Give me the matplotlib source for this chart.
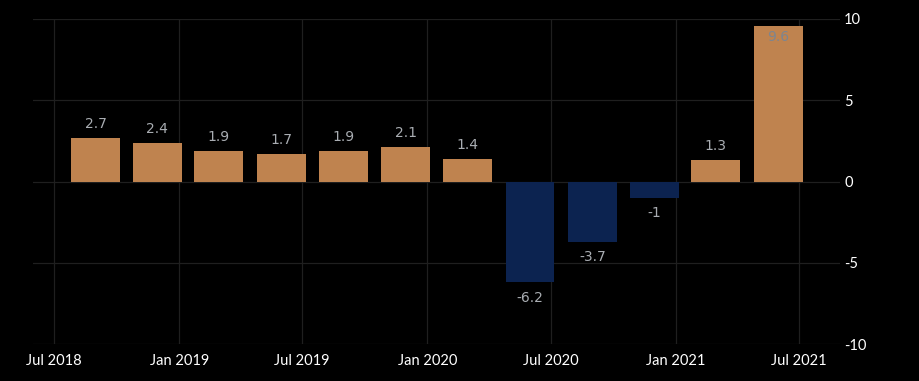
import matplotlib
matplotlib.use("Agg")
import matplotlib.pyplot as plt
import matplotlib.dates as mdates
import pandas as pd

plt.rcParams["axes.unicode_minus"] = False

quarters = ["2018Q3", "2018Q4", "2019Q1", "2019Q2", "2019Q3", "2019Q4",
            "2020Q1", "2020Q2", "2020Q3", "2020Q4", "2021Q1", "2021Q2"]
values = [2.7, 2.4, 1.9, 1.7, 1.9, 2.1, 1.4, -6.2, -3.7, -1.0, 1.3, 9.6]
labels = ["2.7", "2.4", "1.9", "1.7", "1.9", "2.1", "1.4", "-6.2", "-3.7", "-1", "1.3", "9.6"]
xtick_dates = ["2018-07-01", "2019-01-01", "2019-07-01", "2020-01-01",
               "2020-07-01", "2021-01-01", "2021-07-01"]
xtick_labels = ["Jul 2018", "Jan 2019", "Jul 2019", "Jan 2020",
                "Jul 2020", "Jan 2021", "Jul 2021"]
yticks = [-10, -5, 0, 5, 10]

# bar dates: second month end of each quarter
dates = pd.PeriodIndex(quarters, freq="Q").to_timestamp(how="start") + pd.offsets.MonthEnd(2)

pos_color = "#bf834f"
neg_color = "#0c2350"
bg = "#000000"
grid = "#1f1f1f"

fig = plt.figure(figsize=(9.2, 3.81), dpi=100, facecolor=bg)
ax = fig.add_axes([33/920, 1-344/381, (840-33)/920, (344-19)/381], facecolor=bg)

colors = [pos_color if v >= 0 else neg_color for v in values]
xd = mdates.date2num(dates.to_pydatetime())
ax.bar(xd, values, width=72, color=colors, zorder=2)

ax.set_ylim(-10, 10)
ax.set_xlim(mdates.date2num(pd.Timestamp("2018-05-31")), mdates.date2num(pd.Timestamp("2021-08-30")))

lab_font = dict(fontsize=10, family="DejaVu Sans")
for x, v, lab in zip(xd, values, labels):
    if v >= 0:
        if v + 1.0 > 10:
            ax.annotate(lab, (x, v), xytext=(0, -3), textcoords="offset points",
                        ha="center", va="top", color="#7d8590", zorder=3, **lab_font)
        else:
            ax.annotate(lab, (x, v), xytext=(0, 5), textcoords="offset points",
                        ha="center", va="bottom", color="#a9adb2", zorder=3, **lab_font)
    else:
        ax.annotate(lab, (x, v), xytext=(0, -6), textcoords="offset points",
                    ha="center", va="top", color="#a9adb2", zorder=3, **lab_font)

ax.set_xticks(mdates.date2num(pd.to_datetime(xtick_dates).to_pydatetime()))
ax.set_xticklabels(xtick_labels)
ax.set_yticks(yticks)
ax.yaxis.tick_right()
ax.tick_params(axis="both", length=0, colors="white", labelsize=10.5)
for t in ax.get_xticklabels() + ax.get_yticklabels():
    t.set_family("Lato")
ax.tick_params(axis="x", pad=7)
ax.tick_params(axis="y", pad=3)
for s in ax.spines.values():
    s.set_visible(False)
ax.grid(True, color=grid, linewidth=0.9, zorder=0)
ax.set_axisbelow(True)

fig.savefig("out.png", dpi=100, facecolor=bg)
